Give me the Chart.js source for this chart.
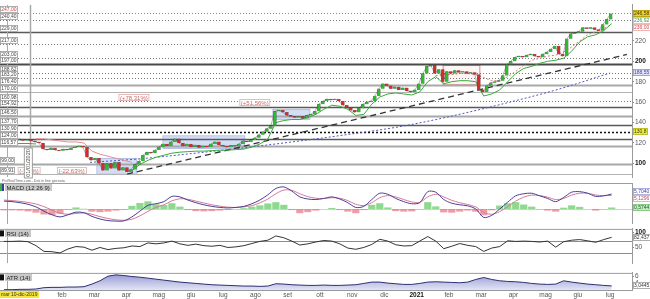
<!DOCTYPE html>
<html>
<head>
<meta charset="utf-8">
<title>Andamento titolo</title>
<script src="https://cdn.jsdelivr.net/npm/chart.js@4.4.1/dist/chart.umd.min.js"></script>
<style>
  html, body { margin: 0; padding: 0; background: #fff; }
  #wrap { position: relative; width: 650px; height: 299px; overflow: hidden; }
  #wrap canvas { position: absolute; left: 0; }
</style>
</head>
<body>
<div id="wrap">
  <canvas id="priceChart" width="650" height="183" style="top:0"></canvas>
  <canvas id="macdChart" width="650" height="41" style="top:183px"></canvas>
  <canvas id="rsiChart" width="650" height="44" style="top:224px"></canvas>
  <canvas id="atrChart" width="650" height="31" style="top:268px"></canvas>
</div>
<script>
// Time is counted in months from 1 January 2020
const xMin = -0.924;
const xMax = 18.679;
const cursorMonth = -0.71;   // mar 10-dic-2019
const yearMonth = 0;

// X axis labels
const monthTicks = [1, 2, 3, 4, 5, 6, 7, 8, 9, 10, 11, 12, 13, 14, 15, 16, 17, 18];
const monthNames = ['feb', 'mar', 'apr', 'mag', 'giu', 'lug', 'ago', 'set', 'ott', 'nov', 'dic', '2021', 'feb', 'mar', 'apr', 'mag', 'giu', 'lug'];
const priceTicks = [100, 120, 140, 160, 180, 200, 220];

// Closing prices, one reading every ~4 days
const priceStart = -0.83;
const priceStep = 0.124;
const closes = [
    124, 123, 123.5, 124, 123, 122.5, 123.5, 122, 121, 120,
    114, 113, 115, 113, 112.5, 114, 113, 115, 116, 117,
    116, 106, 103, 105, 100, 93, 100, 95, 101, 93,
    96, 91.5, 94, 99, 102, 108, 111, 110, 113, 116,
    119, 117, 121, 124, 120, 117, 119, 116, 118, 115.5,
    117, 116, 119, 121, 118, 117, 116, 117.5, 117, 119,
    122, 121, 123, 125, 128, 131, 134, 137, 151, 152,
    150, 147, 146, 145, 146, 144, 147, 148, 151, 158,
    161, 163, 162, 163, 161, 157, 155, 152, 150, 154,
    158, 160, 161, 166, 173, 178, 176, 173, 175, 172,
    174, 171, 170, 172, 178, 188, 195, 196, 188, 192,
    180, 190, 188, 191, 189, 190, 188, 189, 187, 172,
    170, 176, 179, 180, 181, 186, 197, 200, 204, 205,
    204, 206, 207, 205, 204, 207, 209, 212, 215, 207,
    205, 222, 227, 228, 229, 233, 232, 233, 231, 230,
    236, 241, 246.58
];

// Support / resistance levels
const levelPrices = [247, 240.4, 229, 217, 203, 197, 188.62, 183.2, 176.4, 170, 160.98, 154.92, 146.5, 137.7, 130.9, 124, 116.57, 99, 89.91];
const alertLevel = 130.8;

// Trend line (two anchor readings)
const trendMonths = [3.02, 18.52];
const trendPrices = [89.5, 206.7];

// Long moving average (blue dotted)
const maMonths = [1.87, 3.42, 5.28, 6.83, 8.38, 9.93, 11.48, 12.72, 14.89, 16.44, 18.0];
const maPrices = [101, 104.5, 110.5, 116, 122, 128.6, 136, 143.8, 160, 173, 188.55];

// Indicator readings, one every ~8 days
const indStart = -0.80;
const indStep = 0.248;
const greenTrail = [
    119, 119, 119.5, 119.5, 119, null, null, null, null, null,
    null, null, null, null, null, null, 93, 99, 103, 106,
    108, 110, 111, 111.5, 112, 112, 112.5, 113, 113, 113.5,
    114, 116, 119, 124, 140, 142, 143, 143, 145, 148,
    153, 157, 156, 153, 147, 148, 158, 165, 168, 169,
    168, 167, 170, 180, 185, 178, 180, 181, 181, 180,
    166, 168, 172, 180, 188, 193, 195, 198, 200, 201,
    203, 210, 219, 224, 226, 230, 236.92
];
const redTrailFrom = 4;
const redTrail = [124, 124, 123, 122, 121, 121, 120, 112, 109, 107, 105, 103, 101];
const pinkAvgFrom = 54;
const pinkAvg = [186, 187, 187, 188, 188, 187, 184, 181, 181, 185, 190, 196, 201, 203, 205, 206, 209, 214, 220, 226, 229, 232, 236];

const macdLine = [
    3.0, 2.8, 2.4, 1.8, 0.8, -0.8, -2.2, -3.0, -2.2, -1.2,
    -1.4, -2.8, -3.8, -4.4, -4.6, -4.5, -3.0, -0.8, 1.4, 2.0,
    2.8, 4.8, 4.6, 3.4, 2.4, 1.6, 1.0, 0.6, 0.4, 0.6,
    1.0, 2.0, 3.4, 5.4, 7.8, 8.4, 6.8, 4.6, 3.8, 3.6,
    4.0, 4.6, 3.8, 2.4, 0.6, 1.0, 3.6, 6.0, 5.6, 4.0,
    2.8, 2.0, 2.4, 6.6, 6.4, 3.6, 2.2, 1.6, 1.2, 0.0,
    -3.2, -2.4, 0.0, 2.6, 5.0, 5.8, 6.0, 5.0, 4.0, 2.8,
    4.4, 6.4, 6.6, 6.0, 4.8, 5.0, 5.704
];
const signalLine = [
    3.4, 3.2, 2.9, 2.5, 1.9, 0.9, -0.4, -1.6, -2.0, -1.7,
    -1.5, -2.0, -2.9, -3.6, -4.1, -4.3, -3.9, -2.6, -0.9, 0.6,
    1.6, 3.1, 3.9, 3.7, 3.0, 2.3, 1.6, 1.1, 0.7, 0.6,
    0.8, 1.3, 2.3, 3.8, 5.8, 7.2, 7.1, 5.8, 4.7, 4.1,
    4.0, 4.3, 4.1, 3.2, 1.8, 1.3, 2.4, 4.3, 5.1, 4.6,
    3.6, 2.7, 2.5, 4.6, 5.6, 4.6, 3.3, 2.4, 1.7, 0.8,
    -1.3, -2.0, -1.0, 0.9, 3.0, 4.5, 5.3, 5.1, 4.5, 3.6,
    4.0, 5.3, 6.0, 6.0, 5.3, 5.1, 5.1296
];
const macdHist = [
    -0.5, -0.5, -0.6, -0.9, -1.4, -2.1, -2.3, -1.8, -0.3, 0.6,
    0.1, -1.0, -1.2, -1.0, -0.6, -0.3, 1.2, 2.3, 2.9, 1.8,
    1.5, 2.2, 0.9, -0.4, -0.8, -0.9, -0.8, -0.6, -0.4, 0.0,
    0.3, 0.9, 1.4, 2.1, 2.6, 1.6, -0.4, -1.6, -1.2, -0.6,
    0.0, 0.4, -0.4, -1.0, -1.6, -0.4, 1.6, 2.2, 0.6, -0.8,
    -1.0, -0.9, -0.1, 2.6, 1.0, -1.3, -1.4, -1.0, -0.6, -1.0,
    -2.4, -0.5, 1.3, 2.2, 2.6, 1.7, 0.9, -0.1, -0.6, -1.0,
    0.5, 1.4, 0.8, 0.0, -0.6, -0.1, 0.5744
];
const rsiValues = [
    69, 69, 70, 68, 55, 36, 35, 31, 44, 52,
    50, 40, 49, 42, 46, 48, 54, 52, 64, 61,
    64, 70, 61, 56, 60, 55, 53, 56, 49, 51,
    55, 62, 69, 73, 87, 81, 70, 57, 61, 67,
    72, 70, 61, 47, 43, 49, 59, 76, 70, 58,
    54, 55, 70, 85, 70, 45, 53, 62, 56, 52,
    36, 47, 52, 71, 69, 70, 69, 67, 70, 50,
    68, 73, 75, 71, 66, 75, 82.437
];
const atrValues = [
    1.9, 1.9, 2.0, 2.0, 2.1, 2.5, 2.6, 2.6, 2.7, 2.7,
    2.8, 3.6, 4.6, 6.0, 6.4, 6.2, 5.9, 5.7, 5.4, 5.1,
    4.8, 4.5, 4.2, 4.0, 3.8, 3.6, 3.4, 3.3, 3.2, 3.1,
    3.0, 3.0, 2.9, 3.0, 3.7, 3.6, 3.4, 3.3, 3.2, 3.2,
    3.3, 3.2, 3.2, 3.3, 3.4, 3.8, 4.2, 4.2, 3.9, 3.7,
    3.5, 3.5, 3.8, 4.2, 4.3, 4.2, 4.1, 4.0, 4.2, 5.0,
    5.6, 5.0, 4.6, 4.4, 4.3, 4.1, 3.8, 3.6, 3.5, 3.6,
    4.6, 4.2, 3.9, 3.6, 3.4, 3.2, 3.0445
];

// Consolidation zones (light blue) and the red range box
const zoneStart = [2.08, 4.13, 7.54];
const zoneEnd = [3.32, 6.67, 8.69];
const zoneLow = [89.5, 114.5, 143];
const zoneHigh = [105, 127, 153];
const boxStart = 12.82, boxEnd = 13.96, boxLow = 177, boxHigh = 196;

// Percentage notes
const noteTexts = ['(+78,31%)', '(+51,56%)', '(-22,63%)', '(-3,0%)'];
const noteMonths = [3.23, 6.98, 1.31, -0.02];
const notePrices = [164.3, 160.0, 92.9, 92.9];

// ---------------------------------------------------------------
const FAMILY = '"Liberation Sans", Arial, sans-serif';
const FONT = '6px ' + FAMILY;
const SMALL = '5px ' + FAMILY;
const priceMonths = closes.map((c, i) => +(priceStart + i * priceStep).toFixed(3));
const indMonths = rsiValues.map((v, i) => +(indStart + i * indStep).toFixed(3));

function toPoints(xs, ys) {
    return ys.map((v, i) => ({ x: xs[i], y: v }));
}

function fmt(v, d) {
    return v.toFixed(d).replace('.', ',');
}

// Small boxed label, left edge at x, vertically centred on yc
function tag(ctx, text, x, yc, st) {
    const pad = st.pad === undefined ? 1.5 : st.pad;
    ctx.font = st.font || FONT;
    const w = Math.ceil(ctx.measureText(text).width + pad * 2);
    const h = 7;
    const top = Math.round(yc - h / 2);
    ctx.setLineDash([]);
    if (st.bg) {
        ctx.fillStyle = st.bg;
        ctx.fillRect(x, top, w, h);
    }
    if (st.border) {
        ctx.strokeStyle = st.border;
        ctx.lineWidth = 0.8;
        ctx.strokeRect(x + 0.5, top + 0.5, w - 1, h - 1);
    }
    ctx.fillStyle = st.color || '#333';
    ctx.textAlign = 'left';
    ctx.textBaseline = 'middle';
    ctx.fillText(text, x + pad, top + h / 2 + 0.5);
    return w;
}

// Push overlapping right-side tags apart
function spread(items, gap) {
    items.sort((a, b) => a.yc - b.yc);
    for (let k = 0; k < 30; k++) {
        for (let i = 0; i < items.length - 1; i++) {
            const d = items[i + 1].yc - items[i].yc;
            if (d < gap) {
                const m = (gap - d) / 2;
                items[i].yc -= m;
                items[i + 1].yc += m;
            }
        }
    }
    return items;
}

function hLine(ctx, x0, x1, py, color, width, dash) {
    ctx.beginPath();
    ctx.setLineDash(dash || []);
    ctx.strokeStyle = color;
    ctx.lineWidth = width;
    ctx.moveTo(x0, py);
    ctx.lineTo(x1, py);
    ctx.stroke();
}

function vLine(ctx, px, y0, y1, color, width) {
    ctx.beginPath();
    ctx.setLineDash([]);
    ctx.strokeStyle = color;
    ctx.lineWidth = width;
    ctx.moveTo(px, y0);
    ctx.lineTo(px, y1);
    ctx.stroke();
}

const levelLook = {
    redDot: { c: '#e06060', w: 1, dash: [1, 2] },
    dot: { c: '#777', w: 1, dash: [1, 2] },
    solid: { c: '#5a5a5a', w: 1.5, dash: [] },
    thick: { c: '#4a4a4a', w: 2, dash: [] },
    light: { c: '#a8a8a8', w: 2, dash: [] },
    lightThin: { c: '#b4b4b4', w: 1, dash: [] },
    blackDot: { c: '#111', w: 1.5, dash: [2, 2] }
};
const levelKinds = ['redDot', 'dot', 'solid', 'dot', 'dot', 'thick', 'dot', 'dot', 'light', 'lightThin',
    'dot', 'solid', 'light', 'solid', 'blackDot', 'solid', 'light', 'light', 'lightThin'];

const priceDecor = {
    id: 'priceDecor',
    beforeDatasetsDraw(chart) {
        const { ctx, chartArea: a, scales: { x, y } } = chart;
        ctx.save();
        // zones
        for (let i = 0; i < zoneStart.length; i++) {
            const x0 = x.getPixelForValue(zoneStart[i]);
            const x1 = x.getPixelForValue(zoneEnd[i]);
            const y0 = y.getPixelForValue(zoneHigh[i]);
            const y1 = y.getPixelForValue(zoneLow[i]);
            ctx.fillStyle = 'rgba(175,195,238,0.55)';
            ctx.fillRect(x0, y0, x1 - x0, y1 - y0);
            ctx.strokeStyle = 'rgba(120,140,205,0.7)';
            ctx.lineWidth = 0.6;
            ctx.strokeRect(x0, y0, x1 - x0, y1 - y0);
        }
        // red range box
        const bx0 = x.getPixelForValue(boxStart), bx1 = x.getPixelForValue(boxEnd);
        const by0 = y.getPixelForValue(boxHigh), by1 = y.getPixelForValue(boxLow);
        ctx.fillStyle = 'rgba(255,215,215,0.25)';
        ctx.fillRect(bx0, by0, bx1 - bx0, by1 - by0);
        ctx.strokeStyle = '#e08585';
        ctx.lineWidth = 1;
        ctx.strokeRect(bx0, by0, bx1 - bx0, by1 - by0);
        // levels
        levelPrices.forEach((p, i) => {
            const s = levelLook[levelKinds[i]];
            const py = Math.round(y.getPixelForValue(p)) + 0.5;
            hLine(ctx, a.left, a.right, py, s.c, s.w, s.dash);
        });
        // year separator and cursor
        vLine(ctx, Math.round(x.getPixelForValue(yearMonth)) + 0.5, a.top, a.bottom, '#a8a8a8', 1.5);
        vLine(ctx, Math.round(x.getPixelForValue(cursorMonth)) + 0.5, a.top, a.bottom, '#aaa', 1);
        ctx.restore();
    },
    afterDraw(chart) {
        const { ctx, chartArea: a, scales: { x, y } } = chart;
        ctx.save();
        // notes
        noteTexts.forEach((t, i) => {
            ctx.font = FONT;
            const w = Math.ceil(ctx.measureText(t).width) + 3;
            tag(ctx, t, x.getPixelForValue(noteMonths[i]) - w / 2, y.getPixelForValue(notePrices[i]),
                { bg: '#fff', border: '#e4abab', color: '#c86a6a' });
        });
        // rotated year label
        const yx = x.getPixelForValue(yearMonth);
        ctx.save();
        ctx.translate(yx - 1.5, 163);
        ctx.rotate(-Math.PI / 2);
        ctx.fillStyle = '#fff';
        ctx.fillRect(-15, -4, 30, 8);
        ctx.strokeStyle = '#888';
        ctx.lineWidth = 0.8;
        ctx.strokeRect(-15, -4, 30, 8);
        ctx.fillStyle = '#444';
        ctx.font = '5.5px ' + FAMILY;
        ctx.textAlign = 'center';
        ctx.textBaseline = 'middle';
        ctx.fillText('01/01/2020', 0, 0.5);
        ctx.restore();
        // left level labels
        levelPrices.forEach((p, i) => {
            tag(ctx, fmt(p, 2), 0, y.getPixelForValue(p) - 3.5,
                { bg: '#fff', border: '#999', color: i === 0 ? '#d23c3c' : '#444', font: SMALL, pad: 1.2 });
        });
        // right value tags
        const items = spread([
            { yc: y.getPixelForValue(closes[closes.length - 1]), text: fmt(closes[closes.length - 1], 2), st: { bg: '#f2d21b', border: '#b09a10', color: '#333' } },
            { yc: y.getPixelForValue(greenTrail[greenTrail.length - 1]), text: fmt(greenTrail[greenTrail.length - 1], 2), st: { bg: '#fff', border: '#9fd39f', color: '#3a9a3a' } },
            { yc: y.getPixelForValue(pinkAvg[pinkAvg.length - 1]), text: fmt(pinkAvg[pinkAvg.length - 1], 2), st: { bg: '#fff', border: '#e5a5a5', color: '#d04545' } },
            { yc: y.getPixelForValue(maPrices[maPrices.length - 1]), text: fmt(maPrices[maPrices.length - 1], 2), st: { bg: '#e4e4f8', border: '#8f94d0', color: '#4049a8' } },
            { yc: y.getPixelForValue(alertLevel), text: fmt(alertLevel, 1), st: { bg: '#eef03a', border: '#b5b520', color: '#333' } }
        ], 7);
        items.forEach(it => tag(ctx, it.text, a.right + 1, it.yc, Object.assign({ font: SMALL, pad: 1 }, it.st)));
        // footer note
        ctx.font = '3.6px ' + FAMILY;
        ctx.fillStyle = '#666';
        ctx.textAlign = 'left';
        ctx.textBaseline = 'middle';
        ctx.fillText('ProRealTime.com - Dati in fine giornata', 2, a.bottom + 4);
        ctx.restore();
    }
};

function panelDecor(cfg) {
    return {
        id: 'panelDecor',
        beforeDatasetsDraw(chart) {
            const { ctx, chartArea: a, scales: { x, y } } = chart;
            ctx.save();
            (cfg.levels || []).forEach(l => {
                hLine(ctx, a.left, a.right, Math.round(y.getPixelForValue(l.v)) + 0.5, l.c, l.w, l.dash);
            });
            vLine(ctx, Math.round(x.getPixelForValue(cursorMonth)) + 0.5, a.top, a.bottom, '#a5a5a5', 1);
            ctx.restore();
        },
        afterDraw(chart) {
            const { ctx, chartArea: a, scales: { y } } = chart;
            ctx.save();
            hLine(ctx, 0, a.right, a.top + 0.5, '#9c9c9c', 1);
            // title with icon
            const ty = a.top + 4.5;
            if (cfg.icon.length === 2) {
                ctx.fillStyle = cfg.icon[0];
                ctx.fillRect(0, ty - 3.5, 2, 7);
                ctx.fillStyle = cfg.icon[1];
                ctx.fillRect(2, ty - 3.5, 2, 7);
            } else {
                ctx.fillStyle = cfg.icon[0];
                ctx.fillRect(0, ty - 3, 4, 6);
            }
            tag(ctx, cfg.title, 5, ty, { bg: '#c9c9c9', color: '#222' });
            const items = spread(cfg.tags.map(t => Object.assign({ yc: y.getPixelForValue(t.v) }, t)), 7);
            items.forEach(it => tag(ctx, it.text, a.right + 1, it.yc, Object.assign({ font: SMALL, pad: 1 }, it.st)));
            if (cfg.dateBox) {
                tag(ctx, cfg.dateBox, 0, a.bottom + 4.5, { bg: '#f5e43a', color: '#333', font: SMALL, pad: 1 });
            }
            ctx.restore();
        }
    };
}

function rightAxis(min, max, ticks, boldTicks) {
    return {
        position: 'right',
        min: min,
        max: max,
        afterFit: s => { s.width = 18; },
        afterBuildTicks: s => { s.ticks = ticks.map(v => ({ value: v })); },
        grid: { display: true, drawOnChartArea: false, drawTicks: true, tickLength: 2, color: '#888' },
        border: { display: true, color: '#9a9a9a' },
        ticks: {
            padding: 1,
            display: ticks.length > 0,
            font: c => ({ family: FAMILY, size: 6.5, weight: c.tick && boldTicks.includes(c.tick.value) ? 'bold' : 'normal' }),
            color: c => c.tick && boldTicks.includes(c.tick.value) ? '#111' : '#555'
        }
    };
}

function hiddenX() {
    return { type: 'linear', min: xMin, max: xMax, offset: false, display: false };
}

const baseOptions = {
    responsive: false,
    animation: false,
    devicePixelRatio: 1,
    plugins: { legend: { display: false }, tooltip: { enabled: false } }
};

// ---- Price panel ----
const candleData = closes.map((c, i) => ({ x: priceMonths[i], y: i ? [closes[i - 1], c] : [c - 0.4, c + 0.4] }));
const candleColors = closes.map((c, i) => (i === 0 || c >= closes[i - 1]) ? '#2fbb2f' : '#d42b2b');

new Chart(document.getElementById('priceChart'), {
    type: 'line',
    data: {
        datasets: [
            { type: 'bar', label: 'Prezzo', data: candleData, backgroundColor: candleColors, borderColor: 'rgba(30,30,30,0.6)', borderWidth: 0.4, barThickness: 3, order: 0 },
            { label: 'Ombre', data: toPoints(priceMonths, closes), borderColor: 'rgba(40,40,40,0.6)', borderWidth: 0.6, pointRadius: 0, order: 1 },
            { label: 'Trailing', data: toPoints(indMonths, greenTrail), borderColor: '#3aaa3a', borderWidth: 1, pointRadius: 0, spanGaps: false, order: 2 },
            { label: 'Resistenza', data: toPoints(indMonths.slice(redTrailFrom), redTrail), borderColor: '#e58f8f', borderWidth: 1, pointRadius: 0, order: 3 },
            { label: 'Media breve', data: toPoints(indMonths.slice(pinkAvgFrom), pinkAvg), borderColor: '#e07777', borderWidth: 1, borderDash: [2, 2], pointRadius: 0, order: 4 },
            { label: 'Trend', data: toPoints(trendMonths, trendPrices), borderColor: '#333', borderWidth: 1.3, borderDash: [6, 4], pointRadius: 0, order: 5 },
            { label: 'Media lunga', data: toPoints(maMonths, maPrices), borderColor: '#5058c0', borderWidth: 1, borderDash: [2, 2], pointRadius: 0, cubicInterpolationMode: 'monotone', order: 6 }
        ]
    },
    options: Object.assign({}, baseOptions, {
        layout: { padding: { left: 0, right: 0, top: 0, bottom: 6 } },
        scales: {
            x: hiddenX(),
            y: rightAxis(86.67, 255.24, priceTicks, [100, 200])
        }
    }),
    plugins: [priceDecor]
});

// ---- MACD panel ----
new Chart(document.getElementById('macdChart'), {
    type: 'line',
    data: {
        datasets: [
            { label: 'MACD', data: toPoints(indMonths, macdLine), borderColor: '#4a3f95', borderWidth: 1, pointRadius: 0, tension: 0.3, order: 0 },
            { label: 'Segnale', data: toPoints(indMonths, signalLine), borderColor: '#d47a98', borderWidth: 1, pointRadius: 0, tension: 0.3, order: 1 },
            {
                type: 'bar', label: 'Istogramma', data: toPoints(indMonths, macdHist),
                backgroundColor: macdHist.map(v => v >= 0 ? 'rgba(95,200,95,0.7)' : 'rgba(232,115,125,0.7)'),
                borderWidth: 0, barPercentage: 0.9, categoryPercentage: 1, order: 2
            }
        ]
    },
    options: Object.assign({}, baseOptions, {
        layout: { padding: 0 },
        scales: { x: hiddenX(), y: rightAxis(-5.7, 9.886, [], []) }
    }),
    plugins: [panelDecor({
        title: 'MACD (12 26 9)', icon: ['#3cb043', '#3a3aa0'],
        levels: [{ v: 0, c: '#d0d0d0', w: 1 }],
        tags: [
            { v: macdLine[macdLine.length - 1], text: fmt(macdLine[macdLine.length - 1], 4), st: { bg: '#fff', border: '#9aa0d8', color: '#3a3aa0' } },
            { v: signalLine[signalLine.length - 1], text: fmt(signalLine[signalLine.length - 1], 4), st: { bg: '#fff', border: '#e0a5a5', color: '#c24a5a' } },
            { v: macdHist[macdHist.length - 1], text: fmt(macdHist[macdHist.length - 1], 4), st: { bg: '#c4ebc4', border: '#7cc47c', color: '#1d5e1d' } }
        ]
    })]
});

// ---- RSI panel ----
new Chart(document.getElementById('rsiChart'), {
    type: 'line',
    data: {
        datasets: [
            { label: 'RSI', data: toPoints(indMonths, rsiValues), borderColor: '#333', borderWidth: 1, pointRadius: 0 }
        ]
    },
    options: Object.assign({}, baseOptions, {
        layout: { padding: 0 },
        scales: { x: hiddenX(), y: rightAxis(-2.56, 110.26, [50, 100], [100]) }
    }),
    plugins: [panelDecor({
        title: 'RSI (14)', icon: ['#111'],
        levels: [{ v: 70, c: '#8c8c8c', w: 1 }, { v: 30, c: '#8c8c8c', w: 1 }],
        tags: [
            { v: rsiValues[rsiValues.length - 1], text: fmt(rsiValues[rsiValues.length - 1], 3), st: { bg: '#fff', border: '#999', color: '#333' } }
        ]
    })]
});

// ---- ATR panel ----
new Chart(document.getElementById('atrChart'), {
    type: 'line',
    data: {
        datasets: [{
            label: 'ATR', data: toPoints(indMonths, atrValues), borderColor: '#2c2f70', borderWidth: 1, pointRadius: 0,
            fill: 'start',
            backgroundColor: c => {
                const a = c.chart.chartArea;
                if (!a) return 'rgba(150,155,215,0.5)';
                const g = c.chart.ctx.createLinearGradient(0, a.top, 0, a.bottom);
                g.addColorStop(0, 'rgba(112,118,196,0.8)');
                g.addColorStop(1, 'rgba(214,216,240,0.7)');
                return g;
            }
        }]
    },
    options: Object.assign({}, baseOptions, {
        layout: { padding: 0 },
        scales: {
            x: {
                type: 'linear', min: xMin, max: xMax, offset: false,
                afterFit: s => { s.height = 9; },
                afterBuildTicks: s => { s.ticks = monthTicks.map(v => ({ value: v })); },
                grid: { display: false, drawTicks: false, tickLength: 0 },
                border: { display: true, color: '#9a9a9a' },
                ticks: {
                    autoSkip: false, maxRotation: 0, padding: 1,
                    callback: (v, i) => monthNames[i],
                    font: c => ({ family: FAMILY, size: 6.5, weight: c.tick && c.tick.value === 12 ? 'bold' : 'normal' }),
                    color: c => c.tick && c.tick.value === 12 ? '#111' : '#555'
                }
            },
            y: rightAxis(1.8, 7.0, [4, 6], [])
        }
    }),
    plugins: [panelDecor({
        title: 'ATR (14)', icon: ['#111'],
        dateBox: 'mar 10-dic-2019',
        tags: [
            { v: atrValues[atrValues.length - 1], text: fmt(atrValues[atrValues.length - 1], 4), st: { bg: '#fff', border: '#999', color: '#333' } }
        ]
    })]
});
</script>
</body>
</html>
